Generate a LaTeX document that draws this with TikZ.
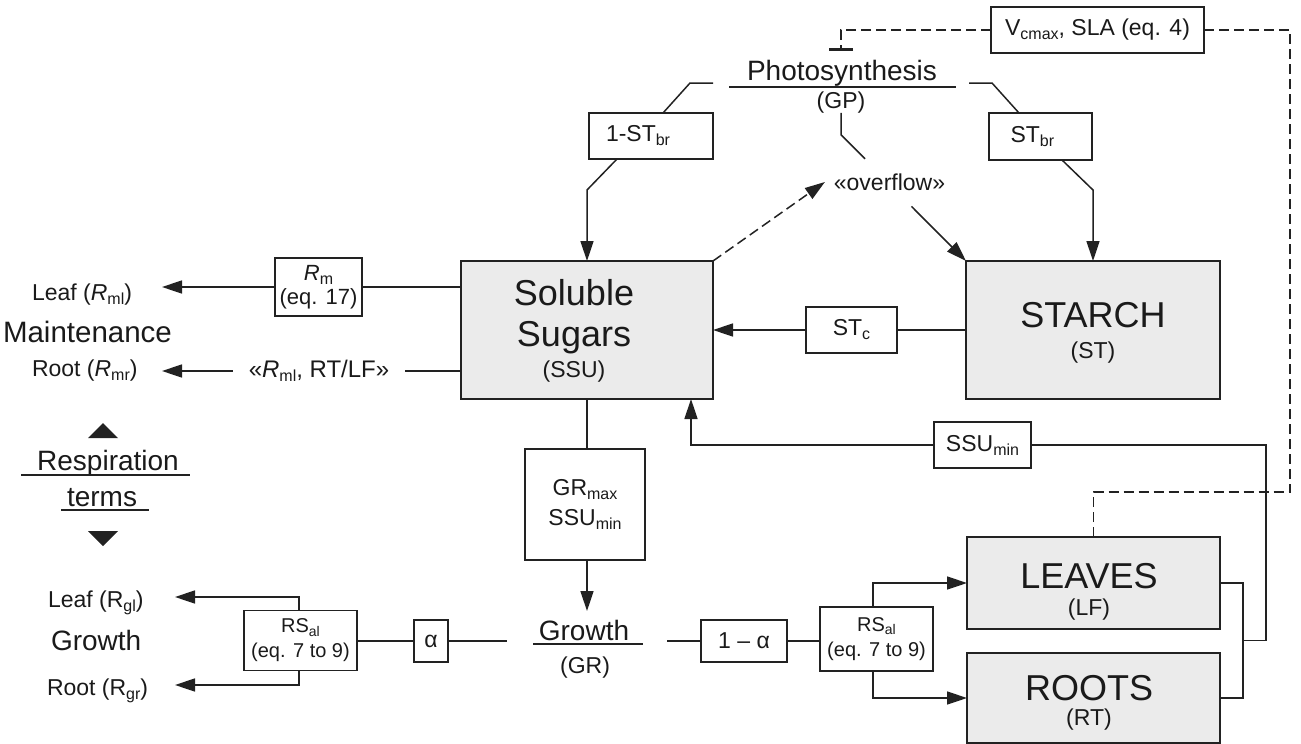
\documentclass[tikz,border=0pt]{standalone}
\usepackage{fontspec}
\setmainfont{Liberation Sans}
\usetikzlibrary{arrows.meta,calc}
\definecolor{lc}{HTML}{222222}
\definecolor{tc}{HTML}{1A1A1A}
\definecolor{poolgray}{HTML}{EBEBEB}
\newcommand{\fszA}{\fontsize{23pt}{26pt}\selectfont}
\newcommand{\fszB}{\fontsize{28pt}{32pt}\selectfont}
\newcommand{\fszC}{\fontsize{36pt}{40pt}\selectfont}
\newcommand{\fszD}{\fontsize{20pt}{25pt}\selectfont}
\newcommand{\fszE}{\fontsize{22pt}{26pt}\selectfont}
\newcommand{\sbs}[1]{\raisebox{-4pt}{\fontsize{16pt}{16pt}\selectfont #1}}
\newcommand{\sbsS}[1]{\raisebox{-3.5pt}{\fontsize{14pt}{14pt}\selectfont #1}}
\begin{document}
\begin{tikzpicture}[x=1pt,y=-1pt,
  box/.style={draw=lc, line width=1.6pt, inner sep=0pt, outer sep=0pt, align=center, font=\fszA, text=tc},
  pool/.style={box, fill=poolgray, line width=1.8pt},
  txt/.style={inner sep=0pt, outer sep=0pt, text=tc, font=\fszA},
  flow/.style={draw=lc, line width=1.5pt},
  arr/.style={flow, -{Triangle[length=20pt,width=13pt]}},
  dsh/.style={flow, dash pattern=on 10pt off 5pt}]
\useasboundingbox (0,0) rectangle (1301,744);

% pools
\node[pool, minimum width=252pt, minimum height=138pt] (ssu) at (587,330) {};
\node[txt, font=\fszC, anchor=base] (ssuA) at (574,305) {Soluble};
\node[txt, font=\fszC, anchor=base] (ssuB) at (574,346) {Sugars};
\node[txt, anchor=base] (ssuC) at (574,377) {(SSU)};

\node[pool, minimum width=254pt, minimum height=138pt] (st) at (1093,330) {};
\node[txt, font=\fszC, anchor=base] (stA) at (1093,327) {STARCH};
\node[txt, anchor=base] (stB) at (1093,358) {(ST)};

\node[pool, minimum width=253pt, minimum height=92pt] (lv) at (1093.5,583) {};
\node[txt, font=\fszC, anchor=base] (lvA) at (1089,588) {LEAVES};
\node[txt, anchor=base] (lvB) at (1089,615) {(LF)};

\node[pool, minimum width=253pt, minimum height=90pt] (rt) at (1093.5,698) {};
\node[txt, font=\fszC, anchor=base] (rtA) at (1089,700) {ROOTS};
\node[txt, anchor=base] (rtB) at (1089,725) {(RT)};

% boxes
\node[box, minimum width=213pt, minimum height=46pt] (vc) at (1097.5,30) {V\sbs{cmax}, SLA (eq. 4)};
\node[box, minimum width=124pt, minimum height=46pt, align=left, text width=90pt, inner xsep=17pt] (st1) at (651,136) {1-ST\sbs{br}};
\node[box, minimum width=103pt, minimum height=47pt, align=left, text width=60pt, inner xsep=21.5pt] (st2) at (1040.5,136.5) {ST\sbs{br}};
\node[box, minimum width=87pt, minimum height=58pt, font=\fszE] (rm) at (318.5,287) {\textit{R}\sbs{m}\\[-2pt](eq. 17)};
\node[box, minimum width=91pt, minimum height=46pt] (stc) at (851.5,330) {ST\sbs{c}};
\node[box, minimum width=120pt, minimum height=111pt, font=\fontsize{23pt}{30pt}\selectfont] (gr) at (585,504.5) {GR\sbs{max}\\SSU\sbs{min}};
\node[box, minimum width=97pt, minimum height=46pt] (ssumin) at (982.5,445) {SSU\sbs{min}};
\node[box, minimum width=34pt, minimum height=42pt] (alp) at (431,641) {α};
\node[box, minimum width=86pt, minimum height=42pt] (oma) at (744,641) {1 – α};
\node[box, minimum width=113pt, minimum height=60pt, font=\fszD] (rsl) at (300.5,640.5) {RS\sbsS{al}\\(eq. 7 to 9)};
\node[box, minimum width=113pt, minimum height=64pt, font=\fszD] (rsr) at (876.5,639) {RS\sbsS{al}\\(eq. 7 to 9)};

% free labels
\node[txt, font=\fszB, anchor=base] (photo) at (842,80) {Photosynthesis};
\node[txt, anchor=base] (gp) at (841,108) {(GP)};
\node[txt] (ovf) at (889.5,182) {«overflow»};
\node[txt, font=\fszB, anchor=base] (growth) at (584,640) {Growth};
\node[txt, anchor=base] (grl) at (585,673) {(GR)};
\node[txt, anchor=base west] (leafm) at (32,300) {Leaf (\textit{R}\sbs{ml})};
\node[txt, font=\fontsize{29.5pt}{32pt}\selectfont, anchor=base west] (maint) at (3,342) {Maintenance};
\node[txt, anchor=base west] (rootm) at (32,376) {Root (\textit{R}\sbs{mr})};
\node[txt, font=\fontsize{24pt}{26pt}\selectfont, inner xsep=16pt] (rml) at (319,371) {«\textit{R}\sbs{ml}, RT/LF»};
\node[txt, font=\fszB, anchor=base] (resp) at (108,470) {Respiration};
\node[txt, font=\fszB, anchor=base] (terms) at (102,506) {terms};
\node[txt, anchor=base west] (leafg) at (48,607) {Leaf (R\sbs{gl})};
\node[txt, font=\fszB, anchor=base west] (growthl) at (51,650) {Growth};
\node[txt, anchor=base west] (rootg) at (47,695) {Root (R\sbs{gr})};

% underlines and triangles
\draw[flow] (729,87) -- (956,87);
\draw[flow] (533,644) -- (643,644);
\draw[flow] (21,475) -- (190,475);
\draw[flow] (61,510) -- (149,510);
\fill[lc] (103,423) -- (88,438) -- (118,438) -- cycle;
\fill[lc] (88,531) -- (118,531) -- (103,546) -- cycle;

% free ends
\coordinate (lmt) at (162,287);
\coordinate (rmt) at (162,371);
\coordinate (lgt) at (175,597);
\coordinate (rgt) at (175,685);
\coordinate (dc) at (1290,492);
\coordinate (inh) at (841,51);
\coordinate (mid) at ($(lv.east)!0.5!(rt.east)$);

% photosynthesis splits
\draw[flow] ([xshift=12pt]st1.north) -- ++(27,-30) -- ++(23,0);
\draw[flow] ([xshift=-21.5pt]st2.north) -- ++(-27,-30) -- ++(-23,0);
\draw[flow] (gp.south) -- ++(0,22) -- ++(24,24);
\draw[arr] ([xshift=-34pt]st1.south) -- ++(-30,31) -- (ssu.north);
\draw[arr] ([xshift=21.5pt]st2.south) -- ++(31,30) -- (st.north);
\draw[dsh, -{Triangle[length=20pt,width=13pt]}] (ssu.north east) -- ([xshift=-9pt]ovf.west);
\draw[arr] ([xshift=22pt,yshift=-16pt]ovf.south) -- (st.north west);

% starch to sugars
\draw[flow] (st.west) -- (stc.east);
\draw[arr] (stc.west) -- (ssu.east);

% maintenance respiration
\draw[flow] (ssu.west |- rm) -- (rm.east);
\draw[arr] (rm.west) -- (lmt);
\draw[flow] (rml.east -| ssu.west) -- (rml.east);
\draw[arr] (rml.west) -- (rmt);

% growth
\draw[flow] (ssu.south) -- (ssu.south |- gr.north);
\draw[arr] (gr.south -| ssu.south) -- ++(0,51);
\draw[flow] (alp.west) -- (rsl.east |- alp.west);
\draw[flow] (alp.east) -- ++(59,0);
\draw[flow] (oma.west) -- ++(-34,0);
\draw[flow] (oma.east) -- (rsr.west |- oma.east);
\draw[arr] ([xshift=-1.5pt]rsl.north) |- (lgt);
\draw[arr] ([xshift=-1.5pt]rsl.south) |- (rgt);
\draw[arr] ([xshift=-3.5pt]rsr.north) |- (lv.west);
\draw[arr] ([xshift=-3.5pt]rsr.south) |- (rt.west);

% return loop
\draw[flow] (lv.east) -- ++(23,0) |- (rt.east);
\draw[flow] ([xshift=23pt]mid) -- ++(23,0) |- (ssumin.east);
\draw[arr] (ssumin.west) -| ([xshift=104pt]ssu.south);

% dashed feedback
\draw[dsh] (lv.north) |- (dc) |- (vc.east);
\draw[dsh, -{Bar[width=24pt,line width=3.5pt]}] (vc.west) -| (inh);
\end{tikzpicture}
\end{document}
